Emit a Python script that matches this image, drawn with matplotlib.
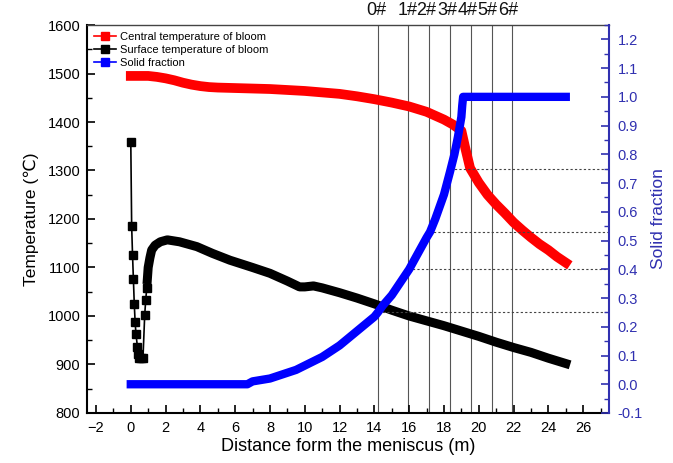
import matplotlib
matplotlib.use("Agg")
import matplotlib.pyplot as plt
from matplotlib.ticker import MultipleLocator, FormatStrFormatter
from matplotlib.lines import Line2D

plt.rcParams['font.family'] = ['Liberation Sans', 'DejaVu Sans']

# ---- data ----
central_x = [0, 0.5, 1, 1.5, 2, 2.5, 3, 3.5, 4, 4.5, 5, 6, 7, 8, 9, 10, 11, 12, 13, 14,
             15, 16, 17, 18, 18.5, 19, 19.2, 19.5, 20, 20.5, 21, 21.5, 22, 22.5, 23, 23.5,
             24, 24.5, 25]
central_t = [1495, 1495, 1495, 1493, 1490, 1486, 1481, 1477, 1474, 1472, 1471, 1470, 1469,
             1468, 1466, 1464, 1461, 1458, 1453, 1447, 1440, 1432, 1421, 1405, 1395, 1382,
             1350, 1305, 1275, 1250, 1230, 1212, 1193, 1177, 1162, 1148, 1136, 1122, 1110]

spike_x = [0, 0.05, 0.1, 0.15, 0.2, 0.25, 0.3, 0.38, 0.44, 0.5, 0.6, 0.7, 0.8, 0.86, 0.92]
spike_t = [1359, 1186, 1126, 1076, 1025, 987, 962, 937, 922, 913, 913, 913, 1002, 1034, 1058]
surface_x = [0.95, 1.0, 1.1, 1.2, 1.4, 1.7, 2.1, 2.8, 3.8, 4.7, 5.7, 7, 8, 9, 9.7, 10,
             10.5, 11, 12, 13, 14, 15, 16, 17, 18, 19, 20, 21, 22, 23, 24, 25]
surface_t = [1075, 1100, 1120, 1136, 1146, 1153, 1157, 1153, 1143, 1129, 1115, 1100, 1088,
             1072, 1060, 1060, 1062, 1058, 1048, 1037, 1025, 1012, 1000, 990, 980, 969, 958,
             946, 935, 925, 913, 902]

solid_x = [0, 1, 2, 3, 4, 5, 6, 6.7, 7, 7.5, 8, 8.5, 9, 9.5, 10, 10.5, 11, 11.5, 12, 12.5,
           13, 13.5, 14, 14.2, 14.5, 15, 15.5, 16, 16.5, 17, 17.2, 17.5, 18, 18.35, 18.6,
           18.8, 19.0, 19.05, 19.1, 20, 21, 22, 23, 24, 25]
solid_f = [0, 0, 0, 0, 0, 0, 0, 0, 0.01, 0.015, 0.02, 0.03, 0.04, 0.05, 0.065, 0.08, 0.095,
           0.115, 0.135, 0.16, 0.185, 0.21, 0.235, 0.25, 0.275, 0.31, 0.355, 0.4, 0.455,
           0.51, 0.53, 0.575, 0.66, 0.74, 0.8, 0.86, 0.93, 0.97, 1.0, 1.0, 1.0, 1.0, 1.0,
           1.0, 1.0]

segment_pos = [14.2, 15.95, 17.15, 18.35, 19.55, 20.75, 21.9]
segment_labels = ['0#', '1#', '2#', '3#', '4#', '5#', '6#']
label_pos = [14.1, 15.9, 17.0, 18.2, 19.35, 20.5, 21.7]
guide_fracs = [0.25, 0.40, 0.53, 0.75]

RED = '#ff0000'
BLUE = '#0000ff'
AXBLUE = '#3030b0'

fig = plt.figure(figsize=(6.73, 4.63), dpi=100)
ax = fig.add_axes([0.1297, 0.108, 0.7756, 0.838])
ax2 = ax.twinx()

ax.set_xlim(-2.5, 27.5)
ax.set_ylim(800, 1600)
ax2.set_ylim(-0.1, 1.25)

# vertical segment lines
for p in segment_pos:
    ax.axvline(p, color='#555555', lw=0.8, zorder=1)
for p, lab in zip(label_pos, segment_labels):
    ax.text(p, 1.015, lab, transform=ax.get_xaxis_transform(), ha='center', va='bottom',
            fontsize=13, color='#111111')

# dashed guides
for f, p in zip(guide_fracs, segment_pos):
    ax2.hlines(f, p, 27.5, colors='#444444', lw=0.8, linestyles=(0, (2, 2)), zorder=1)

# surface temperature
ax.plot(spike_x, spike_t, color='black', lw=1.2, marker='s', ms=5.5, zorder=3)
ax.plot(surface_x, surface_t, color='black', lw=6.5, zorder=3,
        solid_joinstyle='round', solid_capstyle='projecting')
# central temperature
ax.plot(central_x, central_t, color=RED, lw=7, zorder=4,
        solid_joinstyle='round', solid_capstyle='projecting')
# solid fraction
ax2.plot(solid_x, solid_f, color=BLUE, lw=6, zorder=4,
         solid_joinstyle='round', solid_capstyle='projecting')

# legend
handles = [Line2D([], [], color=RED, marker='s', ms=6, lw=1.2, markeredgecolor=RED),
           Line2D([], [], color='black', marker='s', ms=6, lw=1.2),
           Line2D([], [], color=BLUE, marker='s', ms=6, lw=1.2, markeredgecolor=BLUE)]
ax.legend(handles, ['Central temperature of bloom', 'Surface temperature of bloom',
                    'Solid fraction'],
          loc='upper left', frameon=False, fontsize=8, handlelength=2.0,
          handletextpad=0.3, labelspacing=0.3, borderaxespad=0.2,
          bbox_to_anchor=(0.0, 1.0))

# ticks
ax.xaxis.set_major_locator(MultipleLocator(2))
ax.xaxis.set_minor_locator(MultipleLocator(1))
ax.yaxis.set_major_locator(MultipleLocator(100))
ax.yaxis.set_minor_locator(MultipleLocator(50))
ax2.yaxis.set_major_locator(MultipleLocator(0.1))
ax2.yaxis.set_minor_locator(MultipleLocator(0.05))
ax2.yaxis.set_major_formatter(FormatStrFormatter('%.1f'))

ax.tick_params(axis='both', which='major', direction='in', length=6, width=1.2,
               labelsize=10.5, colors='black')
ax.tick_params(axis='both', which='minor', direction='in', length=3.5, width=1.0)
ax.tick_params(axis='x', pad=6)
ax.tick_params(axis='y', pad=5)
ax.tick_params(axis='both', which='both', top=False, right=False)
ax2.tick_params(axis='y', which='major', direction='in', length=6, width=1.2,
                labelsize=10.5, colors=AXBLUE, pad=6)
ax2.tick_params(axis='y', which='minor', direction='in', length=3.5, width=1.0,
                colors=AXBLUE)

for s in ['left', 'bottom']:
    ax.spines[s].set_linewidth(1.5)
ax.spines['top'].set_linewidth(1.0)
ax.spines['top'].set_color('#444444')
ax2.spines['top'].set_visible(False)
ax2.spines['left'].set_visible(False)
ax2.spines['bottom'].set_visible(False)
ax.spines['right'].set_visible(False)
ax2.spines['right'].set_color(AXBLUE)
ax2.spines['right'].set_linewidth(1.5)

ax.set_xlabel('Distance form the meniscus (m)', fontsize=13, labelpad=2)
ax.set_ylabel('Temperature (℃)', fontsize=12.5, labelpad=6)
ax2.set_ylabel('Solid fraction', fontsize=12.5, color=AXBLUE, labelpad=6)

fig.savefig('out.png', dpi=100)
